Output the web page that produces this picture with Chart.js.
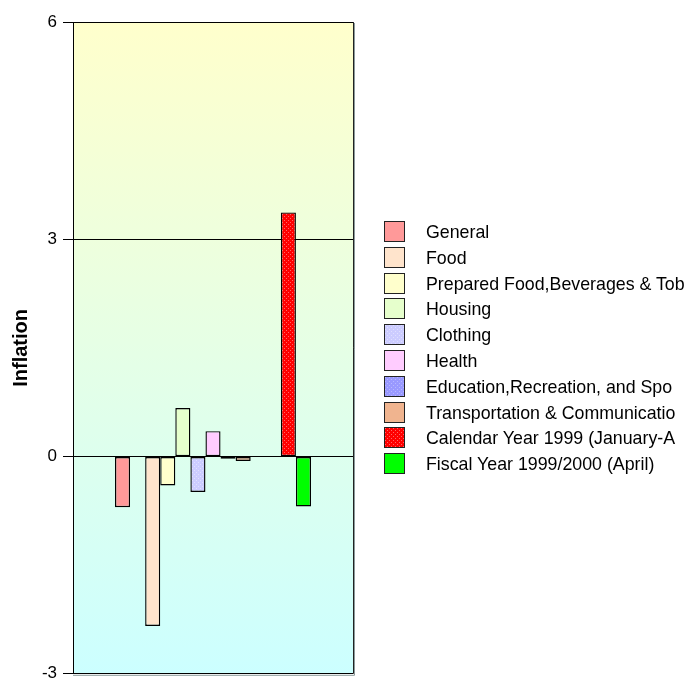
<!DOCTYPE html>
<html>
<head>
<meta charset="utf-8">
<script src="https://cdn.jsdelivr.net/npm/chart.js@4.4.1/dist/chart.umd.min.js"></script>
<style>
  body { margin: 0; background: #fff; }
  #wrap { position: relative; width: 687px; height: 680px; overflow: hidden; }
  #legend { position: absolute; left: 384px; top: 221px; font-family: Arial, "Liberation Sans", sans-serif; font-size: 17.8px; color: #000; white-space: nowrap; }
  .item { height: 25.8px; display: flex; align-items: flex-start; }
  .sw { width: 21px; height: 21px; box-sizing: border-box; border: 1px solid #222; margin-right: 21px; flex: none; }
  .item span { line-height: 23px; }
</style>
</head>
<body>
<div id="wrap">
  <canvas id="myChart" width="687" height="690"></canvas>
  <div id="legend"></div>
</div>
<script>
// series (one bar each)
var seriesNames = [
    'General',
    'Food',
    'Prepared Food,Beverages & Tob',
    'Housing',
    'Clothing',
    'Health',
    'Education,Recreation, and Spo',
    'Transportation & Communicatio',
    'Calendar Year 1999 (January-A',
    'Fiscal Year 1999/2000 (April)'
];
var seriesValues = [-0.70, -2.34, -0.40, 0.67, -0.49, 0.35, -0.03, -0.06, 3.37, -0.69];
var yTicks = [-3, 0, 3, 6];

var fillColors = ['#FF9999', '#FFE4CC', '#FFFFCC', '#E6FFCC', '#CCCCFF', '#FFCCFF', '#9999FF', '#F0B48F', '#FF0000', '#00FF00'];
var dotColors = [null, null, null, null, '#E0E0FF', null, '#B8B8FF', null, '#FF6666', null];

// small dotted tile like the old office fill patterns
function makeTile(base, dot){
    var c = document.createElement('canvas');
    c.width = 4; c.height = 4;
    var g = c.getContext('2d');
    g.fillStyle = base;
    g.fillRect(0, 0, 4, 4);
    if(dot){
        g.fillStyle = dot;
        g.fillRect(0, 0, 1, 1);
        g.fillRect(2, 2, 1, 1);
    }
    return c;
}

var ctx = document.getElementById('myChart').getContext('2d');
var datasets = [];
var gapsAfter = {0: 1, 7: 2};   // empty slots in the original cluster
seriesNames.forEach(function(name, i){
    var tile = makeTile(fillColors[i], dotColors[i]);
    datasets.push({
        label: name,
        data: [seriesValues[i]],
        backgroundColor: dotColors[i] ? ctx.createPattern(tile, 'repeat') : fillColors[i],
        borderColor: '#000',
        borderWidth: 1.4,
        borderSkipped: false
    });
    for(var k = 0; k < (gapsAfter[i] || 0); k++){
        datasets.push({label: '', data: [null]});
    }
    // legend row
    var row = document.createElement('div');
    row.className = 'item';
    row.innerHTML = "<div class='sw' style=\"background:url(" + tile.toDataURL() + ")\"></div><span>" + name + "</span>";
    document.getElementById('legend').appendChild(row);
});

var plotDecor = {
    id: 'plotDecor',
    beforeDraw: function(chart){
        var a = chart.chartArea, c = chart.ctx;
        var grad = c.createLinearGradient(0, a.top, 0, a.bottom);
        grad.addColorStop(0, '#FFFFCC');
        grad.addColorStop(1, '#CCFFFF');
        c.save();
        c.fillStyle = grad;
        c.fillRect(a.left, a.top, a.right - a.left, a.bottom - a.top);
        c.restore();
    },
    afterDraw: function(chart){
        var a = chart.chartArea, c = chart.ctx;
        c.save();
        c.strokeStyle = '#8a9a9a';
        c.lineWidth = 1;
        c.beginPath();
        c.moveTo(a.right + 1.5, a.top + 1);
        c.lineTo(a.right + 1.5, a.bottom + 1.5);
        c.lineTo(a.left, a.bottom + 1.5);
        c.stroke();
        c.strokeStyle = '#222';
        c.beginPath();
        c.moveTo(a.right + 0.5, a.top);
        c.lineTo(a.right + 0.5, a.bottom);
        c.stroke();
        c.restore();
    }
};

var myChart = new Chart(ctx, {
    type: 'bar',
    data: {
        labels: [''],
        datasets: datasets
    },
    options: {
        responsive: false,
        animation: false,
        categoryPercentage: 0.70,
        barPercentage: 1.0,
        layout: { padding: { left: 0, top: 22, right: 334, bottom: 0 } },
        plugins: {
            legend: { display: false },
            tooltip: { enabled: false }
        },
        scales: {
            x: { display: false },
            y: {
                min: -3,
                max: 6,
                afterBuildTicks: function(s){ s.ticks = yTicks.map(function(v){ return {value: v}; }); },
                afterFit: function(s){ s.width = 73; },
                ticks: {
                    color: '#000',
                    padding: 6,
                    font: { family: 'Arial, "Liberation Sans"', size: 17 }
                },
                grid: { color: '#000', lineWidth: 1, tickLength: 10, tickColor: '#000' },
                border: { color: '#000', width: 1 },
                title: {
                    display: true,
                    text: 'Inflation',
                    color: '#000',
                    padding: { top: 9, bottom: 0 },
                    font: { family: 'Arial, "Liberation Sans"', size: 20, weight: 'bold' }
                }
            }
        }
    },
    plugins: [plotDecor]
});
</script>
</body>
</html>
